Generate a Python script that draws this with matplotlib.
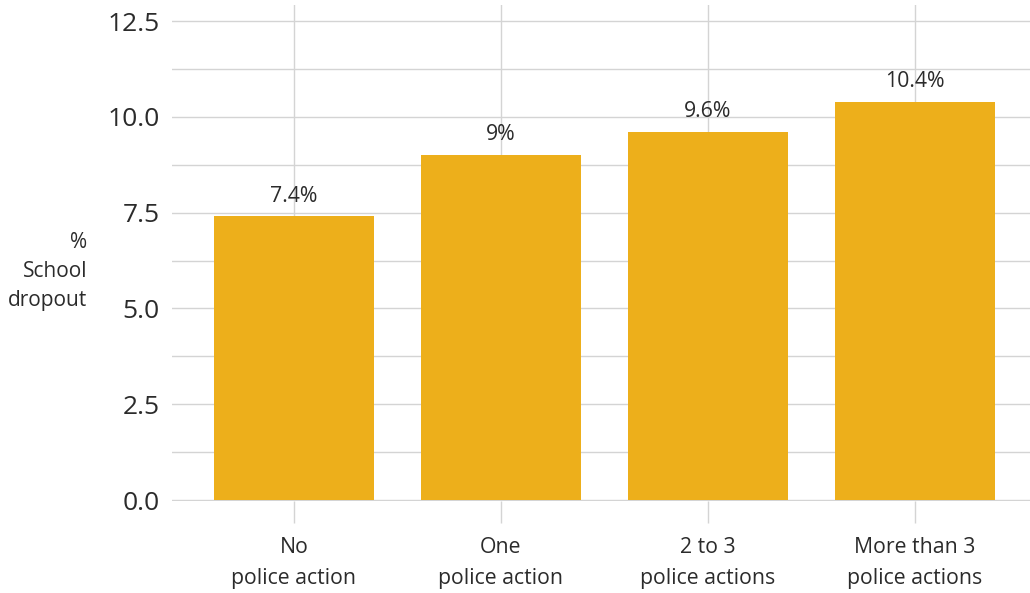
import matplotlib
matplotlib.use("Agg")
import matplotlib.pyplot as plt
from matplotlib.ticker import MultipleLocator

plt.rcParams['font.family'] = ['Open Sans', 'DejaVu Sans']

# Dropout rate by number of police actions
categories = ["No\npolice action", "One\npolice action",
              "2 to 3\npolice actions", "More than 3\npolice actions"]
dropout_pct = [7.4, 9.0, 9.6, 10.4]
value_labels = ["7.4%", "9%", "9.6%", "10.4%"]

bar_color = "#EDAF1B"
text_color = "#2b2b2b"
grid_color = "#d4d4d4"

fig = plt.figure(figsize=(10.3, 5.93), dpi=100)
ax = fig.add_axes([172 / 1030, 92 / 593, (1030 - 172) / 1030, (501 - 5) / 593])

x = range(len(categories))
ax.bar(x, dropout_pct, width=0.77, color=bar_color, zorder=2)

for xi, v, lab in zip(x, dropout_pct, value_labels):
    ax.annotate(lab, (xi, v), xytext=(0, 7), textcoords="offset points",
                ha="center", va="bottom", fontsize=15.3, color=text_color)

ax.set_xlim(-0.589, 3.556)
ax.set_ylim(-0.026, 12.92)
ax.yaxis.set_minor_locator(MultipleLocator(1.25))
ax.set_yticks([0, 2.5, 5, 7.5, 10, 12.5])
ax.set_yticklabels(["0.0", "2.5", "5.0", "7.5", "10.0", "12.5"])

ax.set_xticks(list(x))
ax.set_xticklabels(categories, fontsize=15.3, color=text_color, linespacing=1.6)

ax.grid(True, which="major", color=grid_color, linewidth=1, zorder=0)
ax.grid(True, which="minor", axis="y", color=grid_color, linewidth=1, zorder=0)
ax.set_axisbelow(True)

for s in ax.spines.values():
    s.set_visible(False)

ax.tick_params(axis="y", which="both", length=0, labelsize=19,
               labelcolor=text_color, pad=9)
ax.tick_params(axis="x", length=16, width=1, color=grid_color, pad=10)

ax.set_ylabel("%\nSchool\ndropout", rotation=0, fontsize=15,
              color=text_color, ha="right", va="center", linespacing=1.52)
ax.yaxis.set_label_coords(-85 / 858, (500 - 271) / 495)

fig.savefig("out.png", dpi=100)
